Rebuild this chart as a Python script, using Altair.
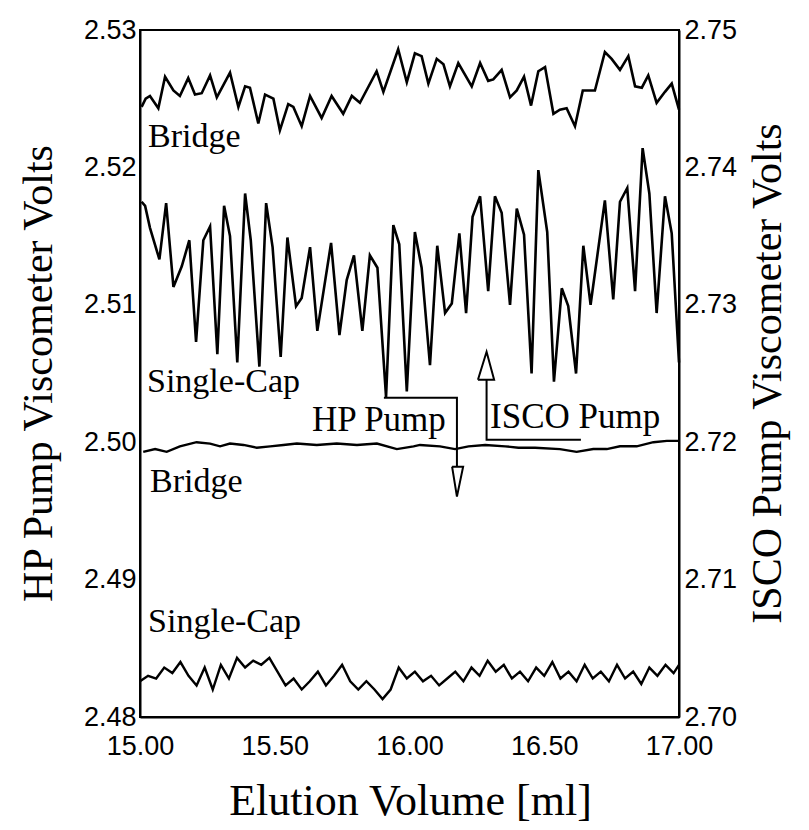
import altair as alt
import pandas as pd

# ISCO pump traces, read against the right axis (volts)
isco_bridge_ml = [15.006, 15.021, 15.037, 15.068, 15.093, 15.124, 15.148, 15.179, 15.204, 15.229,
                  15.260, 15.285, 15.334, 15.365, 15.390, 15.408, 15.439, 15.464, 15.495, 15.519,
                  15.550, 15.569, 15.600, 15.631, 15.674, 15.711, 15.754, 15.786, 15.816, 15.878,
                  15.903, 15.958, 15.990, 16.020, 16.045, 16.070, 16.101, 16.126, 16.150, 16.181,
                  16.231, 16.262, 16.292, 16.311, 16.342, 16.373, 16.398, 16.425, 16.451, 16.478,
                  16.503, 16.534, 16.558, 16.583, 16.614, 16.643, 16.688, 16.725, 16.750, 16.781,
                  16.812, 16.837, 16.862, 16.886, 16.917, 16.948, 16.973, 17.000]
isco_bridge_v = [2.7444, 2.7450, 2.7452, 2.7443, 2.7466, 2.7456, 2.7452, 2.7465, 2.7453, 2.7454,
                 2.7467, 2.7451, 2.7469, 2.7444, 2.7459, 2.7458, 2.7432, 2.7453, 2.7450, 2.7427,
                 2.7446, 2.7444, 2.7430, 2.7452, 2.7436, 2.7452, 2.7439, 2.7452, 2.7447, 2.7470,
                 2.7455, 2.7486, 2.7462, 2.7483, 2.7481, 2.7461, 2.7479, 2.7475, 2.7459, 2.7476,
                 2.7459, 2.7476, 2.7463, 2.7464, 2.7471, 2.7451, 2.7456, 2.7466, 2.7445, 2.7470,
                 2.7473, 2.7439, 2.7442, 2.7443, 2.7430, 2.7456, 2.7456, 2.7484, 2.7479, 2.7471,
                 2.7481, 2.7459, 2.7458, 2.7467, 2.7447, 2.7455, 2.7461, 2.7442]

isco_cap_ml = [15.006, 15.019, 15.037, 15.072, 15.097, 15.124, 15.155, 15.183, 15.208, 15.235,
               15.260, 15.287, 15.312, 15.334, 15.361, 15.390, 15.411, 15.443, 15.468, 15.492,
               15.522, 15.547, 15.579, 15.600, 15.631, 15.658, 15.709, 15.740, 15.767, 15.794,
               15.825, 15.853, 15.881, 15.913, 15.940, 15.962, 15.990, 16.020, 16.045, 16.076,
               16.103, 16.132, 16.157, 16.185, 16.210, 16.234, 16.262, 16.292, 16.317, 16.342,
               16.373, 16.398, 16.425, 16.453, 16.478, 16.511, 16.536, 16.565, 16.589, 16.618,
               16.645, 16.672, 16.725, 16.756, 16.781, 16.808, 16.837, 16.865, 16.890, 16.917,
               16.948, 16.973, 17.000]
isco_cap_v = [2.7375, 2.7372, 2.7356, 2.7333, 2.7374, 2.7313, 2.7328, 2.7347, 2.7273, 2.7347,
              2.7357, 2.7264, 2.7372, 2.7350, 2.7258, 2.7381, 2.7347, 2.7255, 2.7374, 2.7342,
              2.7262, 2.7349, 2.7299, 2.7305, 2.7342, 2.7281, 2.7345, 2.7278, 2.7318, 2.7336,
              2.7281, 2.7336, 2.7327, 2.7233, 2.7358, 2.7344, 2.7237, 2.7353, 2.7327, 2.7256,
              2.7343, 2.7294, 2.7301, 2.7352, 2.7294, 2.7364, 2.7379, 2.7310, 2.7379, 2.7367,
              2.7300, 2.7370, 2.7351, 2.7250, 2.7398, 2.7353, 2.7244, 2.7312, 2.7299, 2.7250,
              2.7343, 2.7300, 2.7376, 2.7304, 2.7375, 2.7385, 2.7310, 2.7414, 2.7381, 2.7294,
              2.7379, 2.7352, 2.7258]

# HP pump traces, read against the left axis (volts)
hp_bridge_ml = [15.012, 15.056, 15.099, 15.148, 15.210, 15.260, 15.297, 15.334, 15.384, 15.433,
                15.483, 15.532, 15.582, 15.656, 15.730, 15.805, 15.879, 15.953, 16.015, 16.039,
                16.113, 16.169, 16.219, 16.281, 16.355, 16.404, 16.466, 16.558, 16.620, 16.682,
                16.732, 16.781, 16.843, 16.905, 16.955, 16.998]
hp_bridge_v = [2.4993, 2.4995, 2.4993, 2.4997, 2.5000, 2.4999, 2.4997, 2.4999, 2.4998, 2.4996,
               2.4997, 2.4998, 2.4999, 2.4998, 2.4999, 2.4998, 2.4999, 2.4995, 2.4997, 2.4998,
               2.4997, 2.4995, 2.4997, 2.4998, 2.4997, 2.4996, 2.4996, 2.4995, 2.4993, 2.4995,
               2.4995, 2.4997, 2.4997, 2.5000, 2.5001, 2.5001]

hp_cap_ml = [15.00, 15.03, 15.06, 15.09, 15.12, 15.15, 15.18, 15.21, 15.24, 15.27,
             15.30, 15.33, 15.36, 15.39, 15.42, 15.45, 15.48, 15.51, 15.54, 15.57,
             15.60, 15.63, 15.66, 15.69, 15.72, 15.75, 15.78, 15.81, 15.84, 15.87,
             15.90, 15.93, 15.96, 15.99, 16.02, 16.05, 16.08, 16.11, 16.14, 16.17,
             16.20, 16.23, 16.26, 16.29, 16.32, 16.35, 16.38, 16.41, 16.44, 16.47,
             16.50, 16.53, 16.56, 16.59, 16.62, 16.65, 16.68, 16.71, 16.74, 16.77,
             16.80, 16.83, 16.86, 16.89, 16.92, 16.95, 16.98, 17.00]
hp_cap_v = [2.4826, 2.4830, 2.4828, 2.4836, 2.4832, 2.4840, 2.4830, 2.4823, 2.4836, 2.4820,
            2.4838, 2.4828, 2.4843, 2.4836, 2.4841, 2.4838, 2.4843, 2.4833, 2.4823, 2.4828,
            2.4820, 2.4826, 2.4833, 2.4823, 2.4830, 2.4838, 2.4826, 2.4820, 2.4826, 2.4820,
            2.4813, 2.4820, 2.4836, 2.4828, 2.4833, 2.4826, 2.4830, 2.4823, 2.4828, 2.4833,
            2.4826, 2.4836, 2.4830, 2.4841, 2.4833, 2.4838, 2.4828, 2.4833, 2.4826, 2.4836,
            2.4830, 2.4840, 2.4828, 2.4833, 2.4826, 2.4838, 2.4828, 2.4833, 2.4826, 2.4838,
            2.4828, 2.4833, 2.4824, 2.4836, 2.4830, 2.4838, 2.4832, 2.4838]

# Curve labels (left-axis coordinates, text anchored at its left baseline)
label_text = ["Bridge", "Single-Cap", "HP Pump", "ISCO Pump", "Bridge", "Single-Cap"]
label_ml = [15.030, 15.026, 15.638, 16.299, 15.037, 15.030]
label_v = [2.52149, 2.50367, 2.50084, 2.50100, 2.49640, 2.48620]
label_size = [34, 34, 35, 35, 34, 34]

# Bracket and arrow strokes (left-axis coordinates, one path per group)
guide_group = ["hp_bar"] * 3 + ["hp_head"] * 4 + ["isco_bar"] * 3 + ["isco_head"] * 4
guide_ml = [15.905, 16.176, 16.176,
            16.158, 16.199, 16.176, 16.158,
            16.636, 16.286, 16.286,
            16.254, 16.314, 16.286, 16.254]
guide_v = [2.50324, 2.50324, 2.49822,
           2.49822, 2.49822, 2.49604, 2.49822,
           2.50018, 2.50018, 2.50455,
           2.50455, 2.50455, 2.50658, 2.50455]

serif = "Liberation Serif"
sans = "Liberation Sans"

isco = pd.concat([
    pd.DataFrame({"ml": isco_bridge_ml, "v": isco_bridge_v, "trace": "Bridge"}),
    pd.DataFrame({"ml": isco_cap_ml, "v": isco_cap_v, "trace": "Single-Cap"}),
])
isco["i"] = range(len(isco))
hp = pd.concat([
    pd.DataFrame({"ml": hp_bridge_ml, "v": hp_bridge_v, "trace": "Bridge"}),
    pd.DataFrame({"ml": hp_cap_ml, "v": hp_cap_v, "trace": "Single-Cap"}),
])
hp["i"] = range(len(hp))
labels = pd.DataFrame({"ml": label_ml, "v": label_v, "text": label_text, "size": label_size})
guides = pd.DataFrame({"ml": guide_ml, "v": guide_v, "g": guide_group})
guides["i"] = range(len(guides))

x_enc = alt.X("ml:Q", scale=alt.Scale(domain=[15, 17], nice=False, zero=False),
              axis=alt.Axis(values=[15, 15.5, 16, 16.5, 17], format=".2f",
                            title="Elution Volume [ml]", titleFont=serif,
                            titleFontSize=44, titleFontWeight="normal",
                            titleX=270, titleY=84, titleBaseline="middle",
                            labelFont=sans, labelFontSize=27, labelPadding=16,
                            labelFlush=False, labelOverlap=False,
                            tickSize=0, grid=False))

y_left = alt.Y("v:Q", scale=alt.Scale(domain=[2.48, 2.53], nice=False, zero=False),
               axis=alt.Axis(orient="left", values=[2.48, 2.49, 2.50, 2.51, 2.52, 2.53],
                             format=".2f", title="HP Pump Viscometer Volts",
                             titleFont=serif, titleFontSize=42, titleFontWeight="normal",
                             titleAngle=270, titleX=-102, titleY=343,
                             titleBaseline="middle", titleAlign="center",
                             labelFont=sans, labelFontSize=27, labelPadding=4,
                             labelFlush=False, tickSize=0, grid=False))

y_right = alt.Y("v:Q", scale=alt.Scale(domain=[2.70, 2.75], nice=False, zero=False),
                axis=alt.Axis(orient="right", values=[2.70, 2.71, 2.72, 2.73, 2.74, 2.75],
                              format=".2f", title="ISCO Pump Viscometer Volts",
                              titleFont=serif, titleFontSize=42, titleFontWeight="normal",
                              titleAngle=270, titleX=88, titleY=343,
                              titleBaseline="middle", titleAlign="center",
                              labelFont=sans, labelFontSize=27, labelPadding=5,
                              labelFlush=False, tickSize=0, grid=False))

hp_lines = alt.Chart(hp).mark_line(color="black", strokeWidth=2.4).encode(
    x=x_enc, y=y_left, detail="trace:N", order="i:Q"
)

label_marks = alt.Chart(labels).mark_text(
    font=serif, align="left", baseline="alphabetic", color="black"
).encode(x=x_enc, y=y_left, text="text:N",
         size=alt.Size("size:Q", scale=None, legend=None))

guide_marks = alt.Chart(guides).mark_line(color="black", strokeWidth=2).encode(
    x=x_enc, y=y_left, detail="g:N", order="i:Q"
)

isco_lines = alt.Chart(isco).mark_line(color="black", strokeWidth=2.6).encode(
    x=x_enc, y=y_right, detail="trace:N", order="i:Q"
)

left_group = alt.layer(hp_lines, guide_marks, label_marks)

chart = alt.layer(left_group, isco_lines).resolve_scale(y="independent").properties(
    width=539, height=687,
    autosize=alt.AutoSizeParams(type="none"),
    padding={"left": 140, "top": 30, "right": 130, "bottom": 113},
    background="white",
).configure_view(stroke="black", strokeWidth=2).configure_axis(
    domainColor="black", domainWidth=2, labelColor="black", titleColor="black"
)

chart.save("out.html", embed_options={"renderer": "svg", "actions": False})
